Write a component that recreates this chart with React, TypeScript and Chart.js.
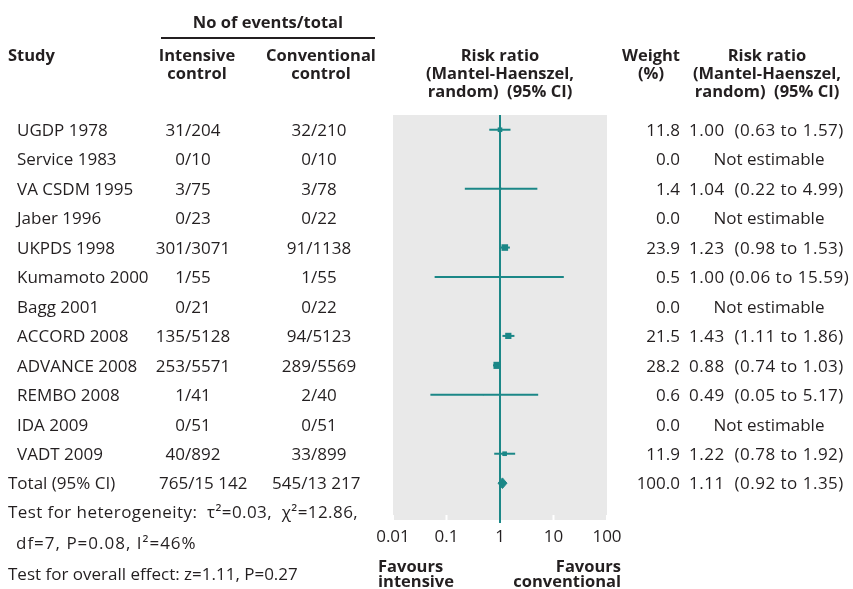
import React, { useEffect, useRef } from "react";
import { Chart, registerables } from "chart.js";

Chart.register(...registerables);

const studies = [
  "UGDP 1978", "Service 1983", "VA CSDM 1995", "Jaber 1996", "UKPDS 1998", "Kumamoto 2000",
  "Bagg 2001", "ACCORD 2008", "ADVANCE 2008", "REMBO 2008", "IDA 2009", "VADT 2009",
];
const intensive = ["31/204", "0/10", "3/75", "0/23", "301/3071", "1/55", "0/21", "135/5128", "253/5571", "1/41", "0/51", "40/892"];
const conventional = ["32/210", "0/10", "3/78", "0/22", "91/1138", "1/55", "0/22", "94/5123", "289/5569", "2/40", "0/51", "33/899"];
const riskRatio = [1.0, null, 1.04, null, 1.23, 1.0, null, 1.43, 0.88, 0.49, null, 1.22];
const ciLow = [0.63, null, 0.22, null, 0.98, 0.06, null, 1.11, 0.74, 0.05, null, 0.78];
const ciHigh = [1.57, null, 4.99, null, 1.53, 15.59, null, 1.86, 1.03, 5.17, null, 1.92];
const weights = ["11.8", "0.0", "1.4", "0.0", "23.9", "0.5", "0.0", "21.5", "28.2", "0.6", "0.0", "11.9"];
const rrText = [
  "1.00  (0.63 to 1.57)", "Not estimable", "1.04  (0.22 to 4.99)", "Not estimable", "1.23  (0.98 to 1.53)",
  "1.00 (0.06 to 15.59)", "Not estimable", "1.43  (1.11 to 1.86)", "0.88  (0.74 to 1.03)", "0.49  (0.05 to 5.17)",
  "Not estimable", "1.22  (0.78 to 1.92)",
];
const totalLabel = "Total (95% CI)";
const totalIntensive = "765/15 142";
const totalConventional = "545/13 217";
const totalRR = 1.11;
const totalLow = 0.92;
const totalHigh = 1.35;
const totalWeight = "100.0";
const totalRRText = "1.11  (0.92 to 1.35)";
const tickValues = [0.01, 0.1, 1, 10, 100];
const tickLabels = ["0.01", "0.1", "1", "10", "100"];

const TEAL = "#1b8787";
const TEXT = "#231f20";
const FONT = "'Open Sans', sans-serif";
const ROW0 = 130;
const STEP = 29.45;

export default function App() {
  const canvasRef = useRef<HTMLCanvasElement | null>(null);

  useEffect(() => {
    if (!canvasRef.current) return;
    const totalRow = studies.length;
    const datasets: any[] = [];
    riskRatio.forEach((r, i) => {
      if (r === null) return;
      datasets.push({
        data: [{ x: ciLow[i], y: i }, { x: ciHigh[i], y: i }],
        showLine: true,
        borderColor: TEAL,
        borderWidth: 2,
        pointRadius: 0,
        fill: false,
      });
    });
    const pts: any[] = [];
    const sizes: number[] = [];
    riskRatio.forEach((r, i) => {
      if (r === null) return;
      pts.push({ x: r, y: i });
      sizes.push(Math.sqrt(parseFloat(weights[i])) * 0.95);
    });
    datasets.push({
      data: pts,
      pointStyle: "rect",
      pointRadius: sizes,
      pointHoverRadius: sizes,
      backgroundColor: TEAL,
      borderColor: TEAL,
      borderWidth: 0,
      showLine: false,
    });
    datasets.push({
      data: [
        { x: totalLow, y: totalRow },
        { x: totalRR, y: totalRow - 0.18 },
        { x: totalHigh, y: totalRow },
        { x: totalRR, y: totalRow + 0.18 },
        { x: totalLow, y: totalRow },
      ],
      showLine: true,
      borderColor: TEAL,
      backgroundColor: TEAL,
      borderWidth: 1,
      pointRadius: 0,
      fill: "shape",
      tension: 0,
    });

    const bgPlugin = {
      id: "bgPlugin",
      beforeDatasetsDraw(chart: any) {
        const { ctx, chartArea } = chart;
        const xs = chart.scales.x;
        ctx.save();
        ctx.fillStyle = "#e9e9e9";
        ctx.fillRect(chartArea.left, chartArea.top, chartArea.right - chartArea.left, chartArea.bottom - chartArea.top);
        ctx.strokeStyle = "#ffffff";
        ctx.lineWidth = 2;
        tickValues.forEach((v) => {
          const px = xs.getPixelForValue(v);
          ctx.beginPath();
          ctx.moveTo(px, chartArea.bottom - 5);
          ctx.lineTo(px, chartArea.bottom);
          ctx.stroke();
        });
        const x1 = xs.getPixelForValue(1);
        ctx.strokeStyle = TEAL;
        ctx.lineWidth = 2;
        ctx.beginPath();
        ctx.moveTo(x1, chartArea.top);
        ctx.lineTo(x1, chartArea.bottom + 3);
        ctx.stroke();
        ctx.restore();
      },
    };

    const chart = new Chart(canvasRef.current, {
      type: "scatter",
      data: { datasets },
      options: {
        animation: false,
        responsive: false,
        events: [],
        layout: { padding: { left: 393, right: 246, top: 115, bottom: 39 } },
        plugins: { legend: { display: false }, tooltip: { enabled: false } },
        scales: {
          x: {
            type: "logarithmic",
            min: 0.01,
            max: 100,
            border: { display: false },
            grid: { display: false },
            afterBuildTicks: (scale: any) => {
              scale.ticks = tickValues.map((v) => ({ value: v }));
            },
            afterFit: (scale: any) => {
              scale.height = 30;
            },
            ticks: {
              autoSkip: false,
              maxRotation: 0,
              padding: -1,
              color: TEXT,
              font: { family: "'Open Sans', sans-serif", size: 17 },
              callback: (_v: any, idx: number) => tickLabels[idx],
            },
          },
          y: {
            type: "linear",
            display: false,
            reverse: true,
            min: -0.5,
            max: 13.25,
          },
        },
      },
      plugins: [bgPlugin],
    });
    return () => chart.destroy();
  }, []);

  const rowY = (i: number) => ROW0 + i * STEP;
  const txt = (
    content: string,
    x: number,
    y: number,
    align: "left" | "center" | "right",
    bold = false,
    key?: string,
    extra: React.CSSProperties = {}
  ) => {
    const style: React.CSSProperties = {
      position: "absolute",
      top: y,
      transform: align === "center" ? "translate(-50%, -50%)" : align === "right" ? "translate(-100%, -50%)" : "translateY(-50%)",
      left: x,
      whiteSpace: "pre",
      fontFamily: FONT,
      fontSize: bold ? 16.5 : 17,
      fontWeight: bold ? 700 : 400,
      color: TEXT,
      lineHeight: "18px",
      textAlign: align,
      ...extra,
    };
    return (
      <div key={key} style={style}>
        {content}
      </div>
    );
  };

  const rrStyle: React.CSSProperties = { letterSpacing: "0.5px" };

  return (
    <div style={{ position: "absolute", left: 0, top: 0, width: 853, height: 589, background: "#ffffff", overflow: "hidden" }}>
      <canvas ref={canvasRef} width={853} height={589} style={{ position: "absolute", left: 0, top: 0 }} />
      {txt("No of events/total", 268, 22, "center", true, "h0")}
      <div style={{ position: "absolute", left: 161, top: 37, width: 214, height: 2, background: TEXT }} />
      {txt("Study", 8, 55, "left", true, "h1")}
      {txt("Intensive\ncontrol", 197, 64, "center", true, "h2")}
      {txt("Conventional\ncontrol", 321, 64, "center", true, "h3")}
      {txt("Risk ratio\n(Mantel-Haenszel,\nrandom)  (95% CI)", 500, 73, "center", true, "h4")}
      {txt("Weight\n(%)", 651, 64, "center", true, "h5")}
      {txt("Risk ratio\n(Mantel-Haenszel,\nrandom)  (95% CI)", 767, 73, "center", true, "h6")}
      {studies.map((s, i) => txt(s, 17, rowY(i), "left", false, "s" + i))}
      {intensive.map((s, i) => txt(s, 193, rowY(i), "center", false, "a" + i))}
      {conventional.map((s, i) => txt(s, 319, rowY(i), "center", false, "b" + i))}
      {weights.map((s, i) => txt(s, 680, rowY(i), "right", false, "w" + i))}
      {rrText.map((s, i) =>
        s === "Not estimable"
          ? txt(s, 769, rowY(i), "center", false, "r" + i)
          : txt(s, 689, rowY(i), "left", false, "r" + i, rrStyle)
      )}
      {txt(totalLabel, 8, rowY(12), "left", false, "t0")}
      {txt(totalIntensive, 159, rowY(12), "left", false, "t1")}
      {txt(totalConventional, 272, rowY(12), "left", false, "t2")}
      {txt(totalWeight, 680, rowY(12), "right", false, "t3")}
      {txt(totalRRText, 689, rowY(12), "left", false, "t4", rrStyle)}
      {txt("Test for heterogeneity:  τ²=0.03,  χ²=12.86,", 8, 512, "left", false, "f0", { letterSpacing: "0.42px" })}
      {txt("df=7, P=0.08, I²=46%", 16, 543, "left", false, "f1", { letterSpacing: "1px" })}
      {txt("Test for overall effect: z=1.11, P=0.27", 8, 574, "left", false, "f2")}
      {txt("Favours\nintensive", 378, 573, "left", true, "v0", { lineHeight: "15px" })}
      {txt("Favours\nconventional", 621, 573, "right", true, "v1", { lineHeight: "15px" })}
    </div>
  );
}
